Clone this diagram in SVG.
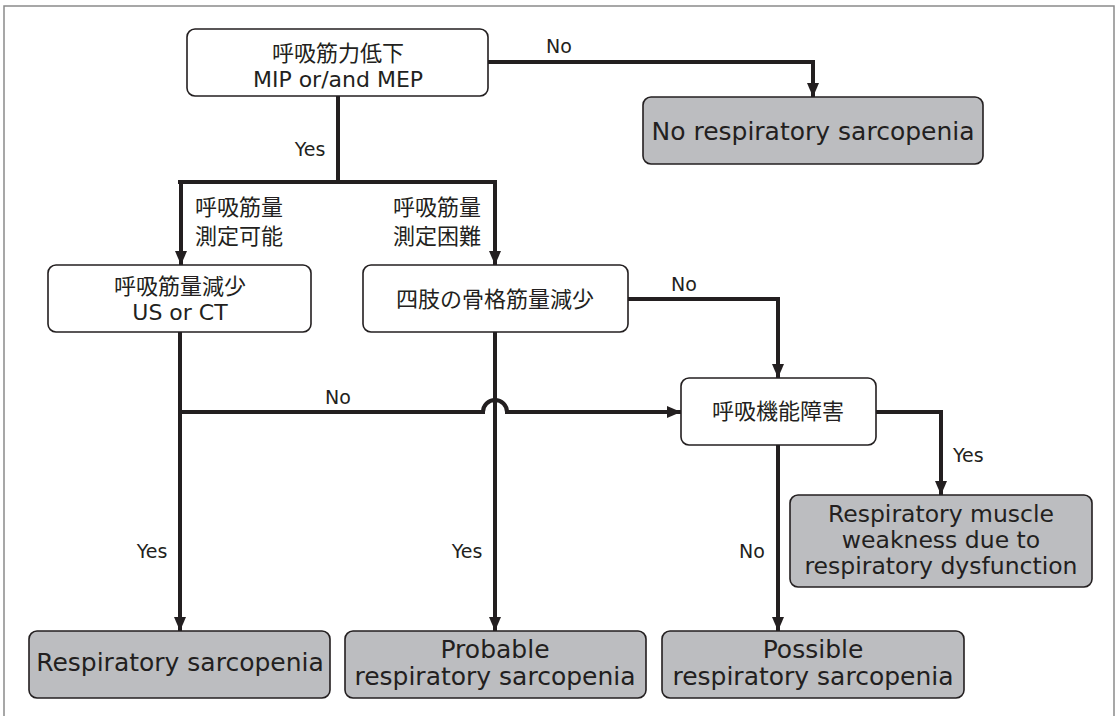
<svg xmlns="http://www.w3.org/2000/svg" width="1118" height="716" viewBox="0 0 1118 716">
<defs>
<marker id="ah" markerWidth="14" markerHeight="12" viewBox="0 0 14 12" refX="14" refY="6" orient="auto" markerUnits="userSpaceOnUse">
<path d="M0,0 L14,6 L0,12 Z" fill="#231f20"/>
</marker>
<style>
.w{fill:#ffffff;stroke:#231f20;stroke-width:1.6}
.g{fill:#bcbdc0;stroke:#231f20;stroke-width:1.6}
.c{fill:none;stroke:#231f20;stroke-width:4}
.a{marker-end:url(#ah)}
text{font-family:"DejaVu Sans","Noto Sans CJK JP",sans-serif;fill:#231f20;text-anchor:middle}
.j{font-family:"Noto Sans CJK JP",sans-serif;font-size:22px}
.e{font-size:22px}
.l{font-size:19px}
.b{font-size:25px}
.m{font-size:23.5px}
.s{text-anchor:start}
</style>
</defs>
<rect x="4" y="6" width="1110" height="720" fill="#ffffff" stroke="#8a8a8a" stroke-width="1.5"/>
<g id="connectors">
<path class="c a" d="M488,62 H813 V97"/>
<path class="c" d="M338,96 V182"/>
<path class="c a" d="M178,182 H495 V265"/>
<path class="c a" d="M181,182 V265"/>
<path class="c a" d="M628,299 H778 V378"/>
<path class="c a" d="M180,332 V631"/>
<path class="c a" d="M495,332 V631"/>
<path class="c a" d="M180,412 H483 A12,12 0 0 1 507,412 H681"/>
<path class="c a" d="M876,412 H941 V495"/>
<path class="c a" d="M778,445 V631"/>
</g>
<g id="labels">
<text class="l s" x="546" y="53">No</text>
<text class="l" x="310" y="156">Yes</text>
<text class="j s" x="195" y="215">呼吸筋量</text>
<text class="j s" x="195" y="244">測定可能</text>
<text class="j s" x="393" y="215">呼吸筋量</text>
<text class="j s" x="393" y="244">測定困難</text>
<text class="l s" x="671" y="291">No</text>
<text class="l" x="338" y="404">No</text>
<text class="l s" x="953" y="462">Yes</text>
<text class="l" x="152" y="558">Yes</text>
<text class="l" x="467" y="558">Yes</text>
<text class="l" x="752" y="558">No</text>
</g>
<g id="n1">
<rect class="w" x="187" y="29" width="301" height="67" rx="8"/>
<text class="j" x="338" y="61">呼吸筋力低下</text>
<text class="e" x="338" y="87">MIP or/and MEP</text>
</g>
<g id="n2">
<rect class="g" x="643" y="97" width="340" height="67" rx="8"/>
<text class="b" x="813" y="140">No respiratory sarcopenia</text>
</g>
<g id="n3">
<rect class="w" x="48" y="265" width="263" height="67" rx="8"/>
<text class="j" x="180" y="294">呼吸筋量減少</text>
<text class="e" x="180" y="320">US or CT</text>
</g>
<g id="n4">
<rect class="w" x="363" y="265" width="265" height="67" rx="8"/>
<text class="j" x="495" y="307">四肢の骨格筋量減少</text>
</g>
<g id="n5">
<rect class="w" x="681" y="378" width="195" height="67" rx="8"/>
<text class="j" x="778" y="419">呼吸機能障害</text>
</g>
<g id="n6">
<rect class="g" x="790" y="495" width="302" height="92" rx="8"/>
<text class="m" x="941" y="522">Respiratory muscle</text>
<text class="m" x="941" y="548">weakness due to</text>
<text class="m" x="941" y="574">respiratory dysfunction</text>
</g>
<g id="n7">
<rect class="g" x="29" y="631" width="301" height="67" rx="8"/>
<text class="b" x="180" y="671">Respiratory sarcopenia</text>
</g>
<g id="n8">
<rect class="g" x="345" y="631" width="301" height="67" rx="8"/>
<text class="b" x="495" y="658">Probable</text>
<text class="b" x="495" y="685">respiratory sarcopenia</text>
</g>
<g id="n9">
<rect class="g" x="662" y="631" width="302" height="67" rx="8"/>
<text class="b" x="813" y="658">Possible</text>
<text class="b" x="813" y="685">respiratory sarcopenia</text>
</g>
</svg>
